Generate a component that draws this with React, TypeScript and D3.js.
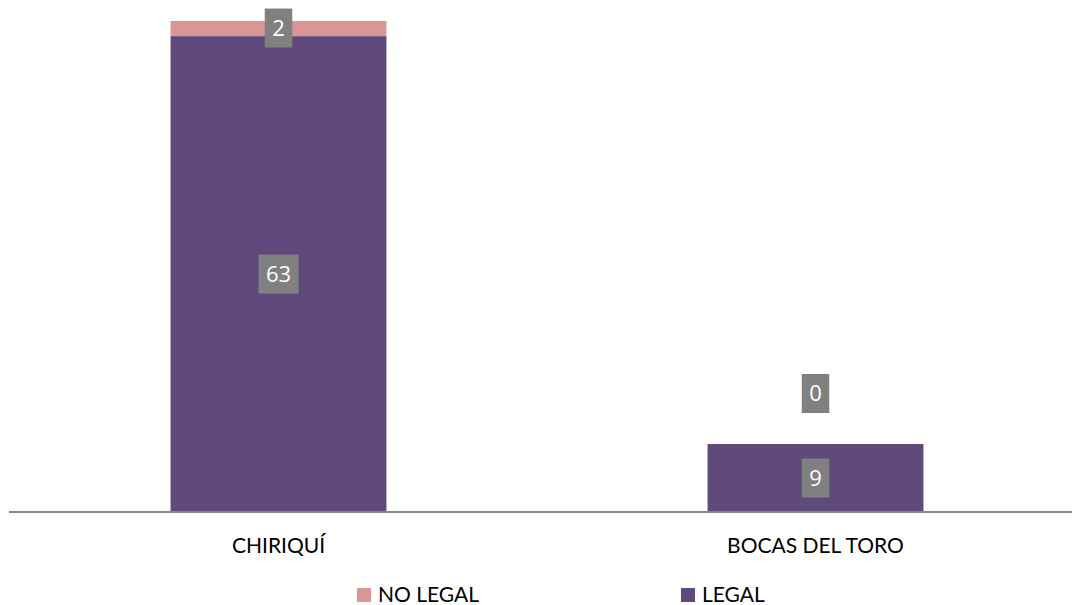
import React from "react";
import * as d3 from "d3";

const categories = ["CHIRIQUÍ", "BOCAS DEL TORO"];
const legalValues = [63, 9];
const noLegalValues = [2, 0];
const seriesNames = ["NO LEGAL", "LEGAL"];
const seriesColors = ["#D99694", "#604A7B"];

const W = 1072;
const H = 605;

export default function App() {
  const x = d3.scaleBand<string>().domain(categories).range([10, 1084]).padding(0);
  const y = d3.scaleLinear().domain([0, 65]).range([512, 21]);
  const bw = x.bandwidth() * 0.402;
  const font = "Lato, 'Open Sans', sans-serif";
  const labelFont = "'Open Sans', sans-serif";

  const label = (cx: number, cy: number, v: number, key: string) => {
    const s = String(v);
    const w = s.length * 12.5 + 15;
    return (
      <g key={key}>
        <rect x={cx - w / 2} y={cy - 19.5} width={w} height={39} fill="#808080" />
        <text x={cx} y={cy} dy="0.36em" textAnchor="middle" fill="#fff" fontSize={22} fontFamily={labelFont}>
          {s}
        </text>
      </g>
    );
  };

  return (
    <svg width={W} height={H} style={{ position: "absolute", left: 0, top: 0 }}>
      <rect width={W} height={H} fill="#fff" />
      {categories.map((c, i) => {
        const cx = (x(c) as number) + x.bandwidth() / 2;
        const legal = legalValues[i];
        const nl = noLegalValues[i];
        const total = legal + nl;
        return (
          <g key={c}>
            <rect x={cx - bw / 2} y={y(legal)} width={bw} height={y(0) - y(legal)} fill={seriesColors[1]} />
            {nl > 0 && (
              <rect x={cx - bw / 2} y={y(total)} width={bw} height={y(legal) - y(total)} fill={seriesColors[0]} />
            )}
          </g>
        );
      })}
      <line x1={9} x2={W} y1={y(0)} y2={y(0)} stroke="#868686" strokeWidth={2} />
      {categories.map((c, i) => {
        const cx = (x(c) as number) + x.bandwidth() / 2;
        const legal = legalValues[i];
        const nl = noLegalValues[i];
        const total = legal + nl;
        const nlCy = nl > 0 ? (y(legal) + y(total)) / 2 - 0.5 : y(total) - 50.5;
        return (
          <g key={"l" + c}>
            {label(cx, (y(0) + y(legal)) / 2, legal, "a" + i)}
            {label(cx, nlCy, nl, "b" + i)}
            <text x={cx} y={553} textAnchor="middle" fontSize={21} fontFamily={font} fill="#000">
              {c}
            </text>
          </g>
        );
      })}
      {seriesNames.map((n, i) => {
        const lx = [357, 681][i];
        return (
          <g key={n}>
            <rect x={lx} y={588} width={14} height={14} fill={seriesColors[i]} />
            <text x={lx + 21} y={602} fontSize={21} fontFamily={font} fill="#000">
              {n}
            </text>
          </g>
        );
      })}
    </svg>
  );
}
